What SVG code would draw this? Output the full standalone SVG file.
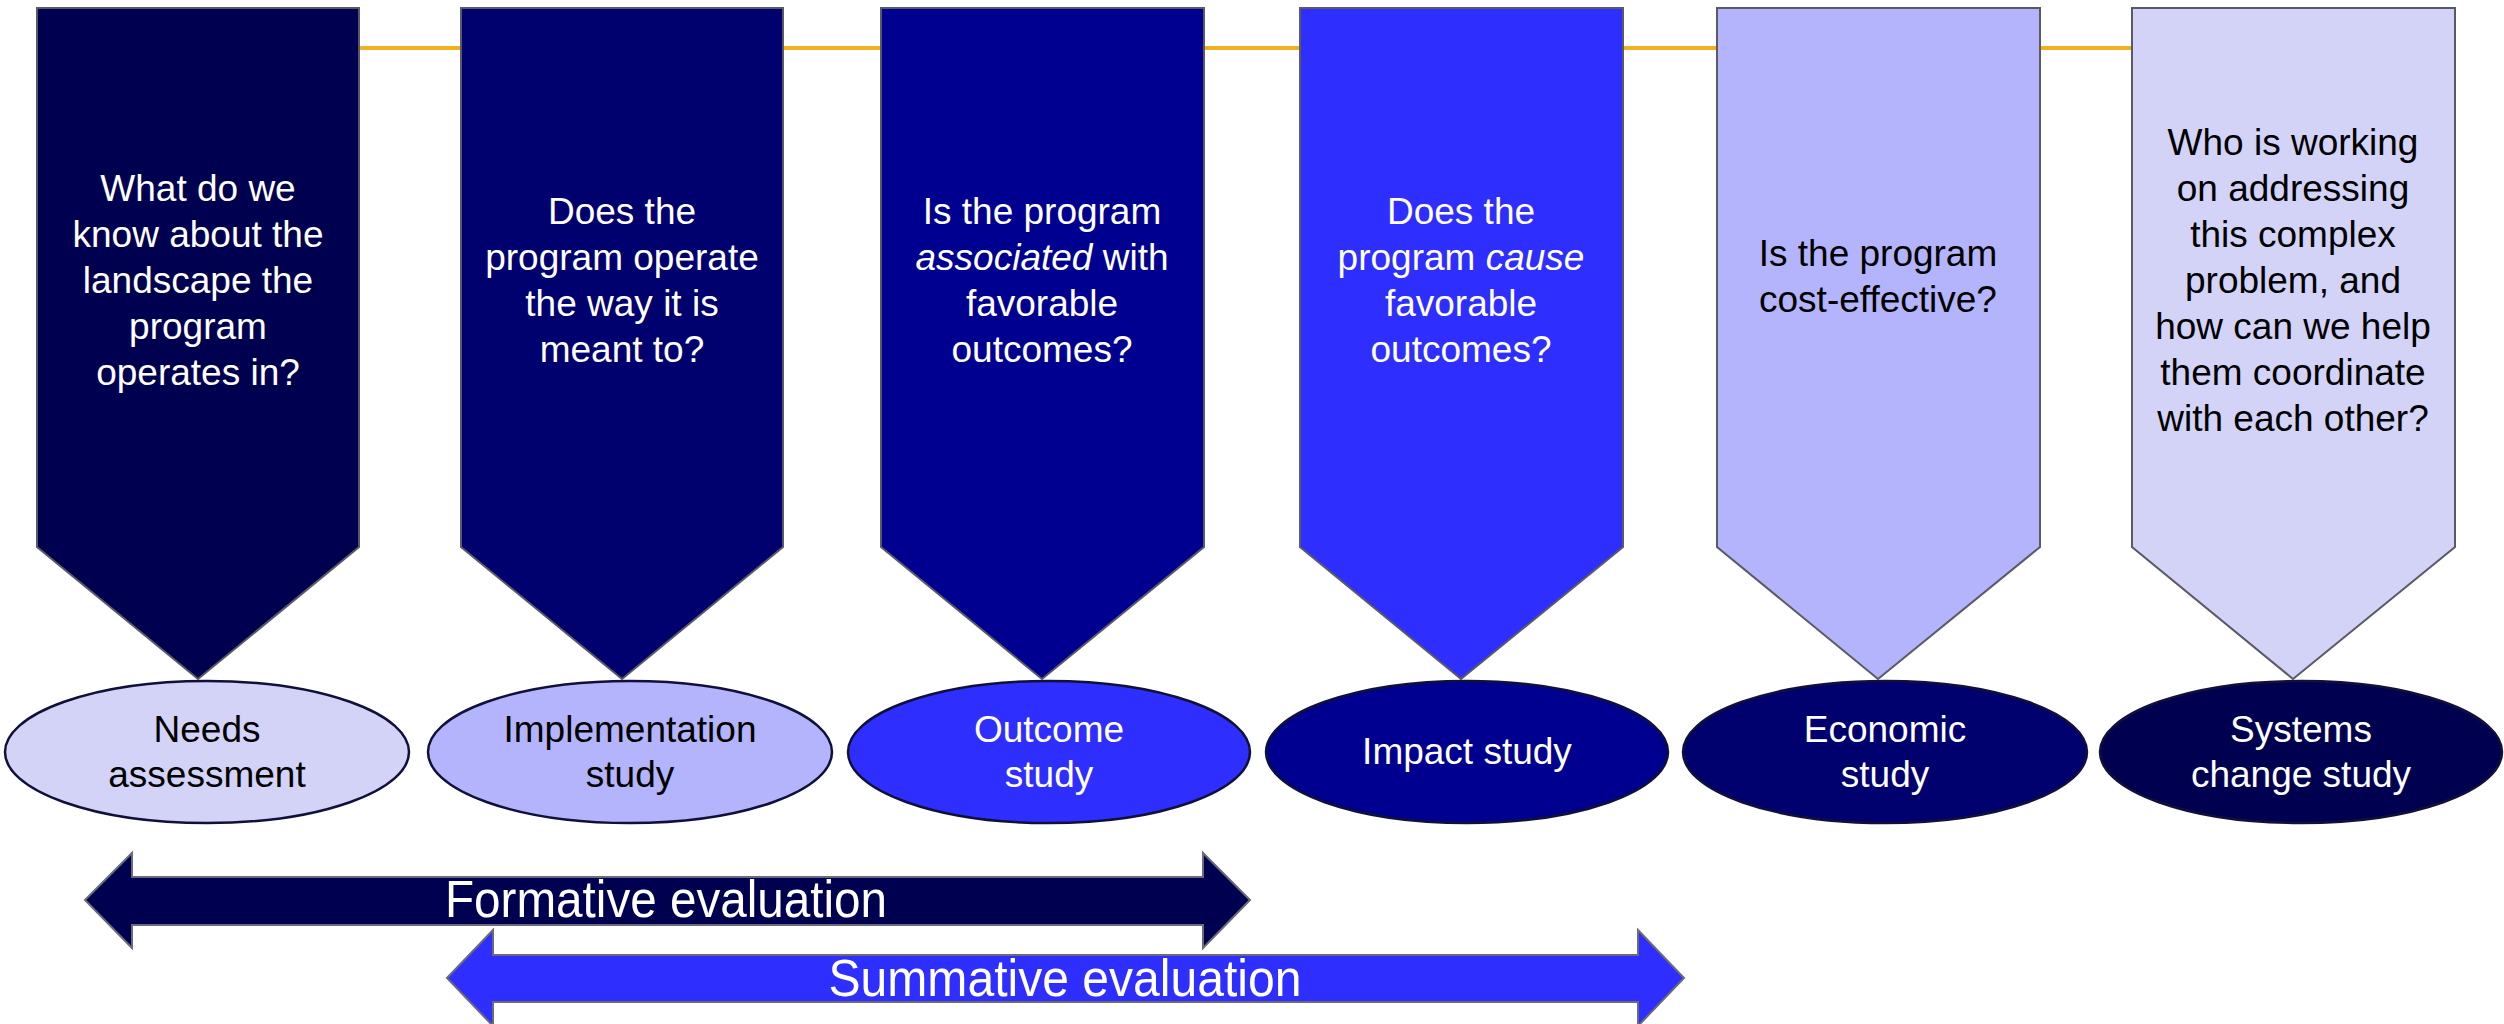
<svg xmlns="http://www.w3.org/2000/svg" width="2504" height="1024" viewBox="0 0 2504 1024">
<style>
.pent{stroke:#5a5a66;stroke-width:2}
.ell{stroke:#10103a;stroke-width:2.5}
.t{font-family:"Liberation Sans",Arial,sans-serif;font-size:37px;text-anchor:middle}
.w{fill:#ffffff}
.k{fill:#000000}
.big{font-family:"Liberation Sans",Arial,sans-serif;font-size:52px;fill:#ffffff;text-anchor:middle}
.arr{stroke:#6a6a78;stroke-width:2}
</style>
<rect width="2504" height="1024" fill="#ffffff"/>
<g id="connectors">
<line x1="359" y1="48" x2="2133" y2="48" stroke="#F0B020" stroke-width="4"/>
</g>
<g id="q1">
<path class="pent" fill="#000050" d="M37,8 H359 V547 L198,679 L37,547 Z"/>
<text class="t w"><tspan x="198" y="201">What do we</tspan><tspan x="198" y="247">know about the</tspan><tspan x="198" y="293">landscape the</tspan><tspan x="198" y="339">program</tspan><tspan x="198" y="385">operates in?</tspan></text>
</g>
<g id="q2">
<path class="pent" fill="#00006E" d="M461,8 H783 V547 L622,679 L461,547 Z"/>
<text class="t w"><tspan x="622" y="224">Does the</tspan><tspan x="622" y="270">program operate</tspan><tspan x="622" y="316">the way it is</tspan><tspan x="622" y="362">meant to?</tspan></text>
</g>
<g id="q3">
<path class="pent" fill="#000090" d="M881,8 H1204 V547 L1042,679 L881,547 Z"/>
<text class="t w"><tspan x="1042" y="224">Is the program</tspan><tspan x="1042" y="270"><tspan font-style="italic">associated</tspan> with</tspan><tspan x="1042" y="316">favorable</tspan><tspan x="1042" y="362">outcomes?</tspan></text>
</g>
<g id="q4">
<path class="pent" fill="#2E2EFF" d="M1300,8 H1623 V547 L1461,679 L1300,547 Z"/>
<text class="t w"><tspan x="1461" y="224">Does the</tspan><tspan x="1461" y="270">program <tspan font-style="italic">cause</tspan></tspan><tspan x="1461" y="316">favorable</tspan><tspan x="1461" y="362">outcomes?</tspan></text>
</g>
<g id="q5">
<path class="pent" fill="#B4B4FC" d="M1717,8 H2040 V547 L1878,679 L1717,547 Z"/>
<text class="t k"><tspan x="1878" y="266">Is the program</tspan><tspan x="1878" y="312">cost-effective?</tspan></text>
</g>
<g id="q6">
<path class="pent" fill="#D3D3F8" d="M2132,8 H2455 V547 L2293,679 L2132,547 Z"/>
<text class="t k"><tspan x="2293" y="155">Who is working</tspan><tspan x="2293" y="201">on addressing</tspan><tspan x="2293" y="247">this complex</tspan><tspan x="2293" y="293">problem, and</tspan><tspan x="2293" y="339">how can we help</tspan><tspan x="2293" y="385">them coordinate</tspan><tspan x="2293" y="431">with each other?</tspan></text>
</g>
<g id="needs">
<ellipse class="ell" fill="#D3D3F8" cx="207" cy="752" rx="202" ry="71"/>
<text class="t k"><tspan x="207" y="742">Needs</tspan><tspan x="207" y="787">assessment</tspan></text>
</g>
<g id="implementation">
<ellipse class="ell" fill="#B4B4FC" cx="630" cy="752" rx="202" ry="71"/>
<text class="t k"><tspan x="630" y="742">Implementation</tspan><tspan x="630" y="787">study</tspan></text>
</g>
<g id="outcome">
<ellipse class="ell" fill="#2E2EFF" cx="1049" cy="752" rx="201" ry="71"/>
<text class="t w"><tspan x="1049" y="742">Outcome</tspan><tspan x="1049" y="787">study</tspan></text>
</g>
<g id="impact">
<ellipse class="ell" fill="#000090" cx="1467" cy="752" rx="201" ry="71"/>
<text class="t w" x="1467" y="764">Impact study</text>
</g>
<g id="economic">
<ellipse class="ell" fill="#00006E" cx="1885" cy="752" rx="202" ry="71"/>
<text class="t w"><tspan x="1885" y="742">Economic</tspan><tspan x="1885" y="787">study</tspan></text>
</g>
<g id="systems">
<ellipse class="ell" fill="#000050" cx="2301" cy="752" rx="201" ry="71"/>
<text class="t w"><tspan x="2301" y="742">Systems</tspan><tspan x="2301" y="787">change study</tspan></text>
</g>
<g id="formative">
<polygon class="arr" fill="#000050" points="85,900 132,853 132,877 1203,877 1203,853 1250,900 1203,948 1203,925 132,925 132,948"/>
<text class="big" x="666" y="917" textLength="442" lengthAdjust="spacingAndGlyphs">Formative evaluation</text>
</g>
<g id="summative">
<polygon class="arr" fill="#2E2EFF" points="447,978 493,930 493,955 1638,955 1638,930 1684,978 1638,1026 1638,1002 493,1002 493,1026"/>
<text class="big" x="1065" y="996" textLength="473" lengthAdjust="spacingAndGlyphs">Summative evaluation</text>
</g>
</svg>
